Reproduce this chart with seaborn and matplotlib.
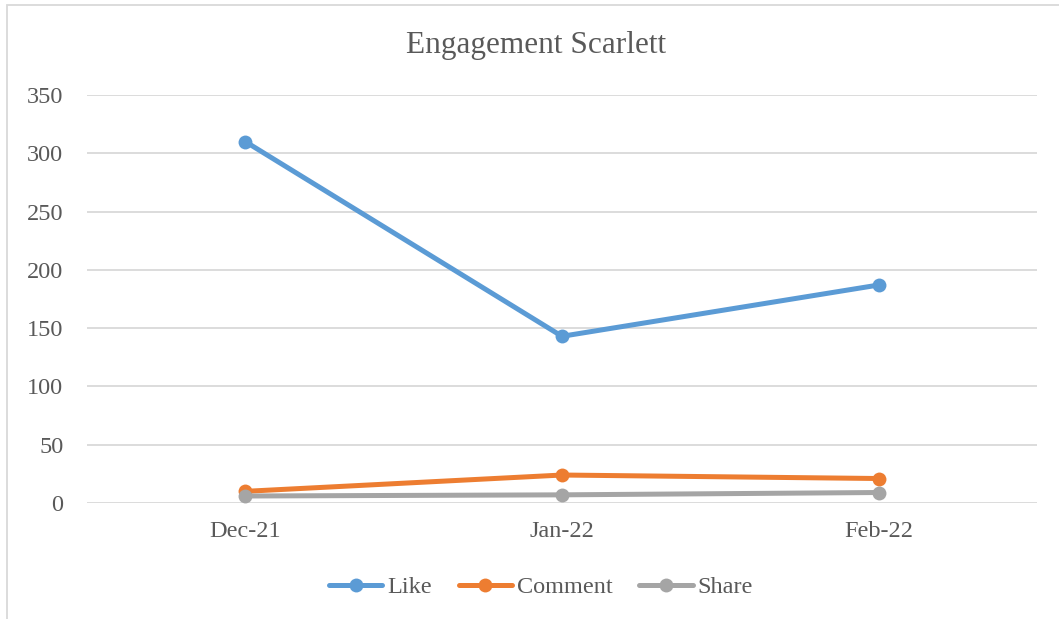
import matplotlib
matplotlib.use("Agg")
import matplotlib.pyplot as plt
import seaborn as sns
import pandas as pd
from matplotlib.patches import Rectangle

months = ["Dec-21", "Jan-22", "Feb-22"]
like = [310, 143, 187]
comment = [10, 24, 21]
share = [6, 7, 9]
series_names = ["Like", "Comment", "Share"]
yticks = [0, 50, 100, 150, 200, 250, 300, 350]

df = pd.DataFrame({
    "month": months * 3,
    "x": list(range(len(months))) * 3,
    "value": like + comment + share,
    "series": [s for s in series_names for _ in months],
})

sns.set_theme(style="white")
plt.rcParams["font.family"] = ["Liberation Serif", "DejaVu Serif"]
text_color = "#595959"

fig = plt.figure(figsize=(10.59, 6.19), dpi=100)
ax = fig.add_axes([87/1059, 1 - 503/619, (1037-87)/1059, (503-95)/619])

palette = {"Like": "#5B9BD5", "Comment": "#ED7D31", "Share": "#A5A5A5"}
sns.lineplot(data=df, x="x", y="value", hue="series", palette=palette,
             marker="o", markersize=10, markeredgewidth=0, linewidth=3.6,
             sort=False, ax=ax)

ax.set_xlim(-0.5, 2.5)
ax.set_ylim(0, 350)
ax.set_xticks(range(len(months)))
ax.set_xticklabels(months)
ax.set_yticks(yticks)
ax.tick_params(axis="both", colors=text_color, labelsize=17.5, length=0)
ax.tick_params(axis="y", pad=17)
ax.tick_params(axis="x", pad=13)
ax.yaxis.grid(True, color="#D9D9D9", linewidth=1.3)
ax.set_axisbelow(True)
for s in ax.spines.values():
    s.set_visible(False)
ax.set_xlabel("")
ax.set_ylabel("")

fig.text(536/1059, 1 - 45/619, "Engagement Scarlett", ha="center", va="center",
         fontsize=22.5, color=text_color)

handles, labels = ax.get_legend_handles_labels()
ax.legend(handles, labels, loc="center", bbox_to_anchor=(541/1059, 1 - 587/619),
          bbox_transform=fig.transFigure, ncol=3, frameon=False,
          fontsize=17.5, labelcolor=text_color, handlelength=2.2,
          handletextpad=0.2, columnspacing=1.1)

fig.patches.append(Rectangle((7/1059, -0.01), 1.05, 1 - 5/619 + 0.01,
                             transform=fig.transFigure, fill=False,
                             edgecolor="#D9D9D9", linewidth=1.3))

fig.savefig("out.png", dpi=100)
